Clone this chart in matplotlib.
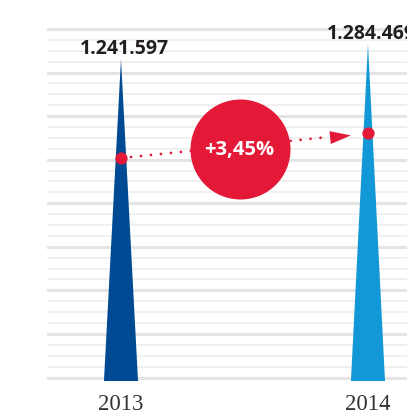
import numpy as np
import matplotlib
matplotlib.use("Agg")
import matplotlib.pyplot as plt
from matplotlib.markers import MarkerStyle
from matplotlib.transforms import Affine2D

# data
years = ["2013", "2014"]
values = [1241597, 1284469]
colors = ["#004a93", "#1398d7"]
dot_vals = [958600, 1030100]   # height of the red markers on each spike
red = "#e31937"

# value axis (not zero based in the original)
grid_base = 331300
grid_top = 1327300
ax_bottom = 321300

fig = plt.figure(figsize=(4.07, 4.14), dpi=100)
ax = fig.add_axes([48 / 407, (414 - 382) / 414, 1 - 48 / 407, (382 - 30) / 414])
ax.set_xlim(-0.2955, 1.158)
ax.set_ylim(ax_bottom, grid_top)
ax.axis("off")

# striped background, every 4th line heavier
for i, g in enumerate(np.linspace(grid_base, grid_top, 33)):
    if i % 4 == 0:
        ax.axhline(g, color="#e4e4e5", lw=2.2, zorder=0, clip_on=False)
    else:
        ax.axhline(g, color="#ececed", lw=1.1, zorder=0, clip_on=False)

# spikes
x = np.arange(len(values))
hw = 0.069
for xi, v, c in zip(x, values, colors):
    ax.fill([xi - hw, xi, xi + hw], [ax_bottom, v, ax_bottom], color=c, lw=0, zorder=2)
    ax.annotate(f"{v:,}".replace(",", "."), (xi, v), xytext=(2.5, 4),
                textcoords="offset points", ha="center", va="baseline",
                fontsize=14, fontweight="bold", family="Open Sans",
                color="#231f20", zorder=5, annotation_clip=False)

# dotted arrow between the markers
t = np.linspace(0, 0.84, 2)
lx = x[0] + t * (x[1] - x[0])
ly = dot_vals[0] + t * (dot_vals[1] - dot_vals[0])
ax.plot(lx, ly, color=red, lw=2.0, linestyle=(0, (0.01, 3.6)),
        dash_capstyle="round", zorder=3)
ta = 0.885
head = MarkerStyle([(-1, -0.62), (1, 0), (-1, 0.62), (-1, -0.62)],
                   transform=Affine2D().rotate_deg(6))
ax.plot(x[0] + ta * (x[1] - x[0]), dot_vals[0] + ta * (dot_vals[1] - dot_vals[0]),
        marker=head, ms=15, color=red, mew=0, zorder=3)
ax.plot(x, dot_vals, "o", color=red, ms=8.8, mew=0, zorder=4)

# growth bubble
pct = (values[1] / values[0] - 1) * 100
cx = 0.48
cy = np.mean(dot_vals) - 10000
ax.plot(cx, cy, "o", color=red, ms=72, mew=0, zorder=4)
ax.text(cx, cy, f"+{pct:.2f}%".replace(".", ","), ha="center", va="center",
        color="white", fontsize=14.5, fontweight="bold", family="Open Sans", zorder=5)

# year labels
for xi, yr in zip(x, years):
    ax.annotate(yr, (xi, 0), xycoords=ax.get_xaxis_transform(), xytext=(0, -16.5),
                textcoords="offset points", ha="center", va="center",
                fontsize=16.5, family="Liberation Serif", color="#333333",
                annotation_clip=False)

fig.savefig("out.png", dpi=100)
